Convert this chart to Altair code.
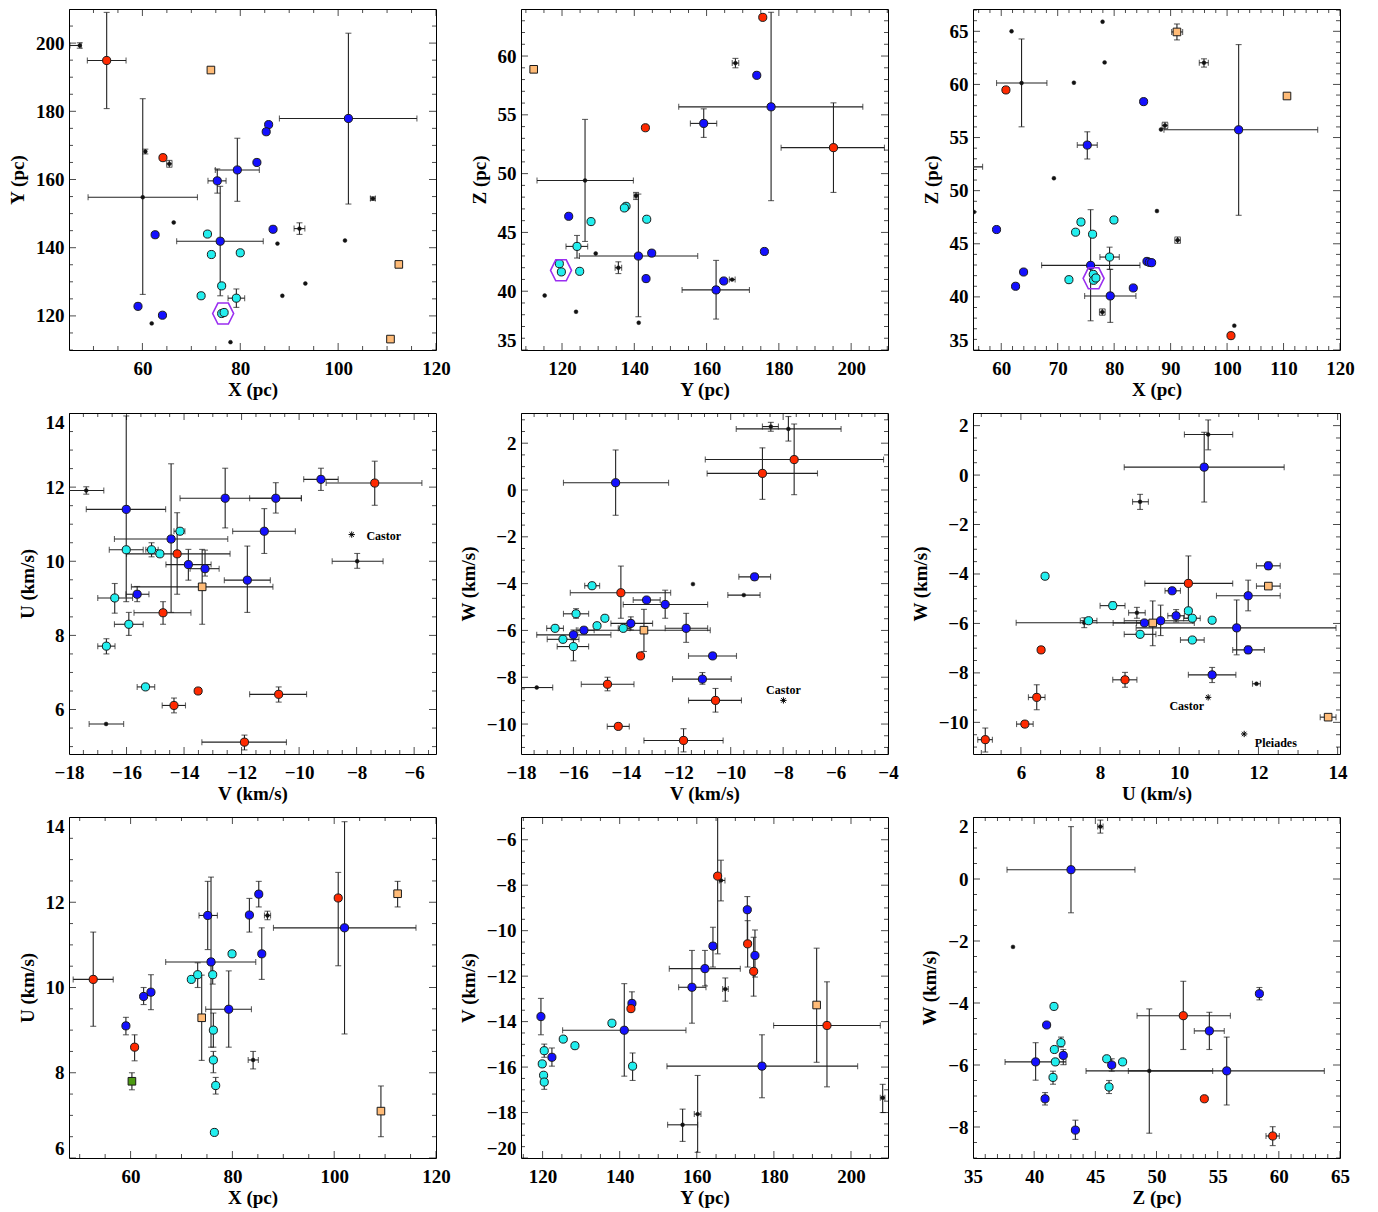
import math
import altair as alt
import pandas as pd

FONT = "Liberation Serif"
W, H = 367, 341
N = None

COLOR = {"r": "#ff2a00", "b": "#1410ff", "c": "#22eeee", "t": "#ffbb77", "g": "#4c9a12", "k": "#111111"}
SHAPE = {"r": "circle", "b": "circle", "c": "circle", "t": "square", "g": "square", "k": "circle"}
SIZE = {"r": 66, "b": 66, "c": 66, "t": 58, "g": 58, "k": 15}
EB = "#222222"
HEX = "M-1,0L-0.5,-1L0.5,-1L1,0L0.5,1L-0.5,1Z"
AST = "M-1,0L1,0M0,-1L0,1M-0.7,-0.7L0.7,0.7M-0.7,0.7L0.7,-0.7"

# rows: (kind, x, y, xlo, xhi, ylo, yhi)
P1 = [
    ("r", 52.7, 194.9, 48.75, 56.66, 180.8, 209.0), ("k", 47.2, 199.3, 45.2, 47.5, 198.5, 200.1),
    ("t", 74.0, 192.1), ("b", 102.1, 177.9, 88.0, 116.1, 152.8, 202.9), ("b", 85.8, 176.1), ("b", 85.3, 174.0),
    ("k", 60.07, 154.8, 48.9, 71.25, 126.3, 183.7), ("k", 60.6, 168.2, N, N, 167.5, 168.9), ("r", 64.2, 166.4),
    ("k", 65.5, 164.6, 64.95, 66.05, 163.6, 165.6), ("b", 79.4, 162.8, 74.9, 83.9, 153.6, 172.1),
    ("b", 75.3, 159.6, 73.4, 77.1, 156.0, 163.1), ("b", 75.9, 141.9, 67.0, 84.7, 125.9, 158.0), ("b", 83.4, 165.0),
    ("k", 66.4, 147.4), ("b", 62.6, 143.8), ("c", 73.3, 144.0), ("c", 74.1, 138.0), ("c", 80.0, 138.5),
    ("b", 86.7, 145.4), ("k", 92.1, 145.6, 91.0, 93.2, 143.9, 147.3), ("k", 87.6, 141.2), ("k", 101.4, 142.1),
    ("k", 107.1, 154.4, 106.6, 107.6, 153.9, 154.9), ("t", 112.4, 135.1), ("t", 110.7, 113.2), ("c", 76.2, 128.8),
    ("c", 72.0, 125.9), ("c", 79.2, 125.2, 77.5, 80.9, 122.5, 127.9), ("c", 76.2, 120.7), ("c", 76.7, 121.0),
    ("b", 59.1, 122.8), ("b", 64.1, 120.2), ("k", 61.9, 117.8), ("k", 78.0, 112.3), ("k", 93.3, 129.5), ("k", 88.6, 125.9),
]
P2 = [
    ("t", 112.16, 58.87), ("r", 175.55, 63.29), ("k", 167.98, 59.40, 167.1, 168.9, 59.0, 59.8), ("b", 173.89, 58.36),
    ("b", 177.85, 55.68, 152.29, 203.23, 47.70, 63.72), ("b", 159.21, 54.27, 155.52, 162.81, 53.08, 55.51),
    ("r", 143.07, 53.90), ("r", 195.11, 52.21, 180.62, 209.22, 48.40, 56.02),
    ("k", 126.37, 49.42, 113.08, 139.75, 44.23, 54.61), ("k", 140.48, 48.12, 139.9, 141.1, 47.8, 48.4),
    ("c", 137.72, 47.22), ("c", 137.25, 47.08), ("c", 143.44, 46.12), ("b", 121.85, 46.37), ("c", 128.03, 45.92),
    ("c", 124.15, 43.81, 121.1, 127.1, 42.82, 44.74), ("b", 141.13, 42.99, 124.8, 157.55, 37.83, 48.26),
    ("b", 144.82, 43.24), ("k", 129.32, 43.21), ("k", 135.59, 42.0, 134.7, 136.5, 41.5, 42.5),
    ("c", 119.26, 42.34), ("c", 119.82, 41.64), ("c", 124.89, 41.69), ("b", 143.25, 41.07), ("b", 164.75, 40.87),
    ("k", 167.06, 40.99, 166.3, 167.9, N, N), ("b", 162.63, 40.11, 153.22, 171.86, 37.63, 42.62), ("b", 176.0, 43.38),
    ("k", 115.2, 39.63), ("k", 123.88, 38.25), ("k", 141.22, 37.32),
]
P3 = [
    ("k", 61.83, 65.0), ("k", 77.95, 65.9), ("t", 91.12, 64.94, 90.18, 92.13, 64.19, 65.69), ("k", 78.31, 62.07),
    ("k", 95.91, 62.04, 95.08, 96.68, 61.63, 62.41), ("k", 63.6, 60.13, 59.17, 68.09, 56.01, 64.28),
    ("r", 60.83, 59.48), ("k", 72.87, 60.16), ("t", 110.61, 58.91), ("b", 85.22, 58.38),
    ("k", 89.0, 56.14, 88.5, 89.5, 55.84, 56.44), ("k", 88.29, 55.76),
    ("b", 102.05, 55.73, 88.82, 116.05, 47.68, 63.75), ("b", 75.24, 54.29, 73.47, 77.01, 52.98, 55.54),
    ("k", 53.5, 52.24, 51.0, 56.7, N, N), ("k", 69.33, 51.17), ("k", 87.58, 48.08), ("k", 55.16, 47.99),
    ("b", 59.17, 46.34), ("c", 74.12, 47.05), ("c", 79.96, 47.24), ("c", 73.17, 46.09), ("c", 76.18, 45.90),
    ("k", 91.24, 45.34, 90.74, 91.74, 45.04, 45.64), ("c", 79.19, 43.75, 77.48, 80.91, 42.59, 44.68),
    ("b", 75.83, 42.97, 67.15, 84.57, 37.75, 48.21), ("b", 85.81, 43.34), ("b", 86.22, 43.25), ("b", 86.64, 43.22),
    ("b", 63.96, 42.34), ("c", 71.99, 41.62), ("c", 76.3, 42.12), ("c", 76.36, 41.56), ("c", 76.77, 41.78),
    ("b", 62.54, 41.0), ("b", 83.39, 40.84), ("b", 79.31, 40.09, 74.77, 83.86, 37.60, 42.59),
    ("k", 77.9, 38.57, 77.4, 78.4, 38.27, 38.87), ("k", 101.28, 37.29), ("r", 100.69, 36.35),
]
P4 = [
    ("k", -17.40, 11.91, -18.0, -16.79, 11.81, 12.01), ("b", -16.01, 11.40, -17.40, -14.64, 8.91, 13.92),
    ("b", -12.57, 11.70, -14.14, -9.92, 10.90, 12.51), ("b", -10.81, 11.70, -11.72, -9.92, 11.30, 12.12),
    ("b", -9.24, 12.21, -9.84, -8.64, 11.91, 12.51), ("r", -7.37, 12.11, -9.06, -5.73, 11.51, 12.70),
    ("b", -11.21, 10.81, -12.31, -10.13, 10.21, 11.42), ("k", -7.98, 10.0, -8.85, -7.08, 9.81, 10.21),
    ("c", -14.14, 10.81, -14.35, -13.97, N, N), ("b", -14.45, 10.60, -16.42, -12.48, 8.62, 12.63),
    ("r", -14.24, 10.20, -16.0, -12.40, 9.11, 11.31), ("c", -16.01, 10.31, -16.60, -15.42, N, N),
    ("c", -15.13, 10.31, -15.33, -14.90, 10.12, 10.50), ("c", -14.84, 10.20),
    ("b", -13.85, 9.91, -14.63, -13.06, 9.49, 10.32), ("b", -13.27, 9.80, -13.79, -12.78, 9.60, 10.30),
    ("b", -11.80, 9.49, -12.60, -11.0, 8.62, 10.41), ("t", -13.37, 9.31, -15.83, -10.91, 8.30, 10.32),
    ("c", -16.41, 9.01, -17.0, -15.79, 8.60, 9.40), ("b", -15.63, 9.11, -16.02, -15.22, 8.91, 9.32),
    ("r", -14.73, 8.61, -15.74, -13.76, 8.30, 8.91), ("c", -15.92, 8.30, -16.42, -15.42, 8.0, 8.62),
    ("c", -16.70, 7.71, -17.0, -16.40, 7.50, 7.91), ("c", -15.34, 6.61, -15.63, -15.02, N, N),
    ("r", -13.51, 6.50), ("r", -14.35, 6.11, -14.76, -13.95, 5.91, 6.31),
    ("r", -10.71, 6.41, -11.72, -9.74, 6.20, 6.61), ("k", -16.71, 5.61, -17.30, -16.10, N, N),
    ("r", -11.90, 5.12, -13.38, -10.44, 4.91, 5.31),
]
P5 = [
    ("k", -8.47, 2.71, -8.79, -8.18, 2.51, 2.89), ("k", -7.80, 2.61, -9.79, -5.79, 2.09, 3.14),
    ("r", -7.58, 1.30, -10.97, -4.17, -0.20, 2.82), ("r", -8.79, 0.71, -10.90, -6.69, -0.40, 1.80),
    ("b", -14.39, 0.31, -16.38, -12.37, -1.08, 1.71), ("k", -11.44, -4.02),
    ("b", -9.09, -3.71, -9.69, -8.48, -3.85, -3.57), ("k", -9.50, -4.49, -10.11, -8.88, N, N),
    ("c", -15.29, -4.09, -15.57, -15.0, N, N), ("r", -14.19, -4.39, -16.12, -12.29, -5.48, -3.25),
    ("b", -13.21, -4.70, -13.72, -12.69, N, N), ("b", -12.50, -4.89, -14.10, -10.88, -5.48, -4.28),
    ("c", -15.90, -5.29, -16.38, -15.42, -5.48, -5.07), ("c", -14.80, -5.48), ("c", -15.10, -5.80),
    ("b", -13.81, -5.70, -14.57, -12.98, -5.98, -5.42), ("c", -14.10, -5.91, -14.29, -13.84, N, N),
    ("c", -16.70, -5.91, -17.02, -16.38, N, N), ("t", -13.31, -5.99, -15.83, -10.78, -6.90, -5.10),
    ("b", -11.70, -5.91, -12.50, -10.88, -6.51, -5.27), ("b", -15.60, -5.99, -15.89, -15.21, N, N),
    ("b", -16.0, -6.19, -17.40, -14.57, -6.40, -5.98), ("c", -16.40, -6.38, -17.0, -15.79, N, N),
    ("c", -16.0, -6.69, -16.62, -15.42, -7.30, -6.19), ("r", -13.44, -7.09),
    ("b", -10.69, -7.09, -11.61, -9.78, N, N), ("b", -11.08, -8.08, -12.22, -9.98, -8.30, -7.80),
    ("r", -14.70, -8.30, -15.70, -13.69, -8.58, -8.0), ("k", -17.40, -8.44, -18.0, -16.79, N, N),
    ("r", -10.58, -8.99, -11.61, -9.59, -9.49, -8.48), ("r", -14.29, -10.10, -14.71, -13.87, N, N),
    ("r", -11.80, -10.70, -13.31, -10.29, -11.19, -10.20),
]
P6 = [
    ("k", 10.73, 1.64, 10.13, 11.35, 1.02, 2.23), ("b", 10.63, 0.32, 8.61, 12.65, -1.09, 1.73),
    ("k", 9.01, -1.08, 8.82, 9.22, -1.39, -0.78), ("c", 6.61, -4.09), ("b", 12.25, -3.67, 11.95, 12.55, -3.82, -3.52),
    ("r", 10.23, -4.38, 9.13, 11.35, -5.79, -3.27), ("t", 12.25, -4.49, 11.95, 12.55, N, N),
    ("b", 9.82, -4.68, 9.64, 10.03, N, N), ("b", 11.74, -4.88, 10.94, 12.55, -5.49, -4.25),
    ("c", 8.32, -5.28, 8.0, 8.63, -5.43, -5.13), ("c", 10.23, -5.49), ("k", 8.93, -5.57, 8.72, 9.14, -5.79, -5.35),
    ("b", 9.92, -5.69, 9.71, 10.13, -5.94, -5.44), ("c", 10.33, -5.79, 10.11, 10.53, N, N), ("c", 10.83, -5.87),
    ("k", 7.60, -5.97, 5.88, 9.30, -6.17, -5.77), ("c", 7.71, -5.89, 7.50, 7.92, N, N),
    ("b", 9.53, -5.89, 8.61, 10.34, -6.49, -5.26), ("t", 9.33, -5.98, 8.33, 10.38, -6.90, -5.09),
    ("b", 9.12, -5.98, 8.92, 9.32, N, N), ("c", 9.01, -6.44, 8.61, 9.41, N, N),
    ("b", 11.45, -6.18, 8.91, 13.96, -7.27, -5.05), ("c", 10.33, -6.67, 10.03, 10.63, N, N),
    ("b", 11.74, -7.07, 11.35, 12.15, -7.22, -6.92), ("r", 6.51, -7.07),
    ("b", 10.83, -8.08, 10.23, 11.43, -8.39, -7.78), ("k", 11.95, -8.44, 11.85, 12.05, N, N),
    ("r", 8.63, -8.28, 8.32, 8.93, -8.58, -7.98), ("r", 6.40, -8.99, 6.19, 6.61, -9.49, -8.48),
    ("t", 13.76, -9.79, 13.56, 13.96, N, N), ("r", 6.10, -10.07, 5.89, 6.31, N, N),
    ("r", 5.10, -10.70, 4.91, 5.28, -11.20, -10.23),
]
P7 = [
    ("r", 52.66, 10.19, 48.72, 56.59, 9.09, 11.30), ("b", 59.08, 9.10, N, N, 8.89, 9.30),
    ("r", 60.79, 8.60, N, N, 8.28, 8.89), ("g", 60.26, 7.80, N, N, 7.60, 8.0), ("b", 62.56, 9.79, N, N, 9.60, 10.0),
    ("b", 64.0, 9.89, N, N, 9.48, 10.30), ("b", 75.15, 11.69, 73.44, 77.05, 10.89, 12.49),
    ("b", 75.80, 10.60, 66.89, 84.59, 8.60, 12.59), ("c", 71.93, 10.19), ("c", 73.18, 10.30, N, N, 10.0, 10.58),
    ("t", 73.97, 9.29, N, N, 8.29, 10.29), ("c", 76.13, 10.30, N, N, 10.08, 10.58), ("c", 76.26, 9.0, N, N, 8.60, 9.40),
    ("c", 76.26, 8.30, N, N, 8.0, 8.50), ("c", 76.72, 7.70, N, N, 7.50, 7.89), ("c", 76.46, 6.60), ("c", 79.93, 10.79),
    ("b", 79.28, 9.49, 74.75, 83.74, 8.60, 10.39), ("b", 83.34, 11.70, N, N, 11.30, 12.09),
    ("b", 85.18, 12.19, N, N, 11.89, 12.49), ("k", 86.89, 11.69, 86.3, 87.5, 11.59, 11.79),
    ("b", 85.77, 10.79, N, N, 10.19, 11.40), ("k", 84.07, 8.30, 83.1, 85.1, 8.09, 8.50),
    ("r", 100.79, 12.10, N, N, 10.51, 12.70), ("b", 102.03, 11.40, 88.07, 116.07, 8.91, 13.89),
    ("t", 112.46, 12.20, N, N, 11.89, 12.49), ("t", 109.18, 7.10, N, N, 6.50, 7.69),
]
P8 = [
    ("b", 119.57, -13.78, N, N, -14.58, -12.98), ("c", 120.43, -15.28, N, N, -15.57, -14.99), ("c", 119.91, -15.86),
    ("c", 120.26, -16.36), ("c", 120.43, -16.66, N, N, -16.98, -16.66), ("b", 122.42, -15.57, N, N, -15.96, -15.16),
    ("c", 125.36, -14.77), ("c", 128.39, -15.06), ("b", 141.19, -14.38, 125.19, 157.19, -16.40, -12.33),
    ("c", 137.99, -14.07), ("b", 143.18, -13.20, N, N, -13.49, -12.69), ("r", 142.92, -13.43),
    ("c", 143.35, -15.96, N, N, -16.59, -15.38), ("k", 156.32, -18.54, 152.43, 160.22, -19.27, -17.85),
    ("k", 160.22, -18.07, 159.35, 161.08, -19.75, -16.37), ("b", 158.75, -12.49, 155.29, 162.38, -14.07, -10.87),
    ("b", 162.12, -11.67, 152.86, 171.29, -12.43, -10.87), ("b", 164.19, -10.68, N, N, -11.60, -9.85),
    ("r", 165.41, -7.60, N, N, -11.02, -4.98), ("k", 166.27, -7.79, 165.84, 167.31, -8.69, -6.90),
    ("k", 167.39, -12.57, 166.7, 168.17, -13.10, -12.08), ("b", 173.10, -9.08, N, N, -10.58, -8.50),
    ("r", 173.19, -10.58, N, N, -11.60, -9.56), ("b", 175.09, -11.09, N, N, -12.04, -9.97),
    ("r", 174.75, -11.79, N, N, -12.88, -10.29), ("b", 176.91, -15.96, 152.26, 201.73, -17.35, -14.58),
    ("t", 191.09, -13.27, N, N, -15.79, -10.77), ("r", 193.77, -14.17, 179.93, 207.61, -16.87, -12.25),
    ("k", 208.22, -17.35, 207.6, 208.8, -18.0, -16.76),
]
P9 = [
    ("k", 45.41, 1.69, 45.19, 45.63, 1.48, 1.90), ("b", 43.01, 0.30, 37.78, 48.24, -1.09, 1.69), ("k", 38.27, -2.19),
    ("c", 41.62, -4.11), ("b", 41.02, -4.71), ("c", 42.19, -5.28, N, N, -5.42, -5.10), ("c", 41.65, -5.50),
    ("b", 42.38, -5.69, N, N, -5.99, -5.50), ("b", 40.12, -5.90, 37.62, 42.60, -6.49, -5.28), ("c", 41.73, -5.90),
    ("c", 41.54, -6.40, N, N, -6.62, -6.20), ("b", 40.89, -7.09, N, N, -7.29, -6.89),
    ("b", 43.37, -8.10, N, N, -8.40, -7.78), ("c", 45.93, -5.80), ("c", 47.23, -5.90),
    ("b", 46.34, -6.0, N, N, -6.2, -5.8), ("c", 46.12, -6.71, N, N, -6.92, -6.50),
    ("k", 49.41, -6.19, 44.24, 54.59, -8.20, -4.19), ("b", 55.74, -6.19, 47.70, 63.72, -7.29, -5.10),
    ("r", 52.19, -4.41, 48.41, 56.04, -5.50, -3.30), ("b", 54.32, -4.90, 53.09, 55.54, -5.50, -4.30),
    ("r", 53.91, -7.09), ("b", 58.41, -3.70, N, N, -3.90, -3.50), ("r", 59.50, -8.29, 58.95, 60.04, -8.60, -7.99),
]

# axis settings: x domain, y domain, x major/minor step, y major/minor step, titles
DOMAINS_X = [[45, 120], [108.65, 210.2], [55, 120], [-18, -5.24], [-18, -4], [4.79, 14.06], [47.9, 120], [114.4, 209.6], [35, 65]]
DOMAINS_Y = [[110, 210], [35, 64], [35, 67.1], [4.8, 14], [-11.28, 3.29], [-11.28, 2.51], [6, 14], [-20, -5], [-9, 2]]
STEPS_X = [(20, 5), (20, 5), (10, 2), (2, 0.5), (2, 0.5), (2, 0.5), (20, 5), (20, 5), (5, 1)]
STEPS_Y = [(20, 5), (5, 1), (5, 1), (2, 0.5), (2, 0.5), (2, 0.5), (2, 0.5), (2, 0.5), (2, 0.5)]
TITLES_X = ["X (pc)", "Y (pc)", "X (pc)", "V (km/s)", "V (km/s)", "U (km/s)", "X (pc)", "Y (pc)", "Z (pc)"]
TITLES_Y = ["Y (pc)", "Z (pc)", "Z (pc)", "U (km/s)", "W (km/s)", "W (km/s)", "U (km/s)", "V (km/s)", "W (km/s)"]

HEXES = {0: [(76.5, 120.7)], 1: [(119.72, 41.78)], 2: [(76.36, 41.75)]}
STARS = {3: [(-8.17, 10.72)], 4: [(-7.99, -8.99)], 5: [(10.73, -8.99), (11.64, -10.47)]}
LABELS = {3: [(-7.66, 10.69, "Castor", "left")], 4: [(-7.99, -8.54, "Castor", "center")],
          5: [(10.19, -9.33, "Castor", "center"), (12.44, -10.83, "Pleiades", "center")]}


def tick_values(lo, hi, step):
    n0 = math.ceil(lo / step - 1e-9)
    n1 = math.floor(hi / step + 1e-9)
    return [round(k * step, 6) for k in range(n0, n1 + 1)]


def tick_frame(lo, hi, major, minor):
    maj = tick_values(lo, hi, major)
    mino = [v for v in tick_values(lo, hi, minor) if all(abs(v - m) > 1e-6 for m in maj)]
    return maj, pd.DataFrame({"v": maj + mino, "len": [14] * len(maj) + [8] * len(mino)})


def panel(i, rows):
    df = pd.DataFrame([tuple(r) + (None,) * (7 - len(r)) for r in rows],
                      columns=["kind", "x", "y", "xlo", "xhi", "ylo", "yhi"])
    xs = alt.Scale(domain=DOMAINS_X[i], nice=False, zero=False)
    ys = alt.Scale(domain=DOMAINS_Y[i], nice=False, zero=False)

    def X(f, axis=None):
        return alt.X(f, type="quantitative", scale=xs, axis=axis)

    def Y(f, axis=None):
        return alt.Y(f, type="quantitative", scale=ys, axis=axis)

    xmaj, xt = tick_frame(DOMAINS_X[i][0], DOMAINS_X[i][1], *STEPS_X[i])
    ymaj, yt = tick_frame(DOMAINS_Y[i][0], DOMAINS_Y[i][1], *STEPS_Y[i])

    xaxis = alt.Axis(values=xmaj, ticks=False, domain=False, grid=False, labelFont=FONT, labelFontSize=19,
                     labelFontWeight="bold", labelColor="black", labelPadding=9, labelFlush=False,
                     labelOverlap=False, title=TITLES_X[i], titleFont=FONT, titleFontSize=19,
                     titleFontWeight="bold", titleColor="black", titlePadding=2)
    yaxis = alt.Axis(values=ymaj, ticks=False, domain=False, grid=False, labelFont=FONT, labelFontSize=19,
                     labelFontWeight="bold", labelColor="black", labelPadding=5, labelFlush=True,
                     labelOverlap=False, title=TITLES_Y[i], titleFont=FONT, titleFontSize=19,
                     titleFontWeight="bold", titleColor="black", titlePadding=8)

    # first layer carries the axes
    layers = [alt.Chart(df).mark_point(opacity=0).encode(x=X("x", xaxis), y=Y("y", yaxis))]

    ex = df.dropna(subset=["xlo"])
    if len(ex):
        layers.append(alt.Chart(ex).mark_rule(color=EB, strokeWidth=1.1, clip=True)
                      .encode(x=X("xlo"), x2=alt.X2("xhi"), y=Y("y")))
        caps = pd.concat([ex[["xlo", "y"]].rename(columns={"xlo": "cx"}),
                          ex[["xhi", "y"]].rename(columns={"xhi": "cx"})])
        layers.append(alt.Chart(caps).mark_tick(orient="vertical", size=6, thickness=1.1, color=EB, clip=True)
                      .encode(x=X("cx"), y=Y("y")))
    ey = df.dropna(subset=["ylo"])
    if len(ey):
        layers.append(alt.Chart(ey).mark_rule(color=EB, strokeWidth=1.1, clip=True)
                      .encode(y=Y("ylo"), y2=alt.Y2("yhi"), x=X("x")))
        caps = pd.concat([ey[["x", "ylo"]].rename(columns={"ylo": "cy"}),
                          ey[["x", "yhi"]].rename(columns={"yhi": "cy"})])
        layers.append(alt.Chart(caps).mark_tick(orient="horizontal", size=6, thickness=1.1, color=EB, clip=True)
                      .encode(x=X("x"), y=Y("cy")))

    for k in ["k", "t", "g", "c", "b", "r"]:
        sub = df[df["kind"] == k]
        if len(sub) == 0:
            continue
        layers.append(alt.Chart(sub).mark_point(shape=SHAPE[k], size=SIZE[k], filled=True, fill=COLOR[k],
                                                stroke="#1a1a1a", strokeWidth=1 if k != "k" else 0.5,
                                                opacity=1, clip=True)
                      .encode(x=X("x"), y=Y("y")))

    if i in HEXES:
        hd = pd.DataFrame(HEXES[i], columns=["x", "y"])
        layers.append(alt.Chart(hd).mark_point(shape=HEX, size=440, filled=False, color="#9a2ef0",
                                               strokeWidth=1.6, opacity=1)
                      .encode(x=X("x"), y=Y("y")))
    if i in STARS:
        sd = pd.DataFrame(STARS[i], columns=["x", "y"])
        layers.append(alt.Chart(sd).mark_point(shape=AST, size=40, filled=False, color="black",
                                               strokeWidth=1, opacity=1)
                      .encode(x=X("x"), y=Y("y")))
    if i in LABELS:
        for (lx, ly, txt, al) in LABELS[i]:
            td = pd.DataFrame({"x": [lx], "y": [ly], "t": [txt]})
            layers.append(alt.Chart(td).mark_text(font=FONT, fontSize=12, fontWeight="bold", align=al,
                                                  baseline="middle", color="black")
                          .encode(x=X("x"), y=Y("y"), text="t:N"))

    sz = alt.Size("len:Q", scale=None, legend=None)
    for ypos in (0, H):
        layers.append(alt.Chart(xt).mark_tick(orient="vertical", thickness=1, color="black", clip=True)
                      .encode(x=X("v"), y=alt.value(ypos), size=sz))
    for xpos in (0, W):
        layers.append(alt.Chart(yt).mark_tick(orient="horizontal", thickness=1, color="black", clip=True)
                      .encode(y=Y("v"), x=alt.value(xpos), size=sz))

    return (alt.layer(*layers).properties(width=W, height=H)
            .resolve_axis(x="independent", y="independent"))


charts = [panel(i, rows) for i, rows in enumerate([P1, P2, P3, P4, P5, P6, P7, P8, P9])]
chart = (alt.concat(*charts, columns=3, spacing={"row": 63, "column": 85}, bounds="flush")
         .properties(padding={"left": 0, "top": 0, "right": 5, "bottom": 0}, background="white")
         .configure_view(stroke="black", strokeWidth=1))

chart.save("out.html", embed_options={"renderer": "svg", "actions": False})
